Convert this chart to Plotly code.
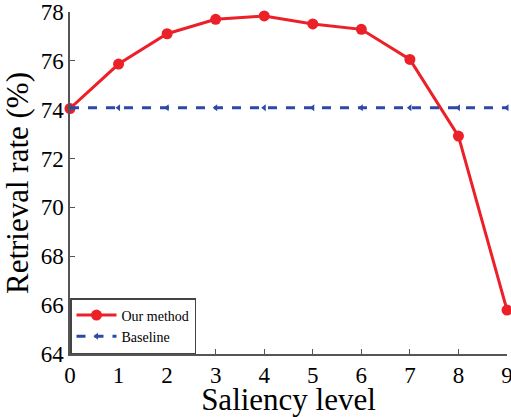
import plotly.graph_objects as go

levels = [0, 1, 2, 3, 4, 5, 6, 7, 8, 9]
our_method = [74.05, 75.87, 77.11, 77.70, 77.84, 77.51, 77.29, 76.06, 72.92, 65.80]
baseline = [74.08] * 10
y_ticks = [64, 66, 68, 70, 72, 74, 76, 78]

red = "#EC2028"
blue = "#2D48A8"
font = "Liberation Serif"

fig = go.Figure()
fig.add_trace(go.Scatter(
    x=levels, y=our_method, mode="lines+markers", name="Our method",
    line=dict(color=red, width=3), marker=dict(color=red, size=11),
    cliponaxis=False))
fig.add_trace(go.Scatter(
    x=levels, y=baseline, mode="lines+markers", name="Baseline",
    line=dict(color=blue, width=3, dash="dash"),
    marker=dict(color=blue, size=6, symbol="triangle-left"),
    cliponaxis=False))

fig.update_layout(
    width=511, height=417,
    margin=dict(l=70, r=4, t=12, b=63),
    paper_bgcolor="white", plot_bgcolor="white",
    font=dict(family=font, color="black"),
    showlegend=True,
    legend=dict(x=0, y=0, xanchor="left", yanchor="bottom",
                bordercolor="#444", borderwidth=1.5, bgcolor="white",
                font=dict(family=font, size=14), tracegroupgap=0,
                itemwidth=40),
    xaxis=dict(range=[0, 9], tickvals=levels, ticks="inside", ticklen=5,
               tickcolor="#555", showline=True, linecolor="#555", linewidth=1.5,
               showgrid=False, zeroline=False, ticklabeloverflow="allow",
               automargin=False,
               tickfont=dict(family=font, size=23),
               title=dict(text="Saliency level", font=dict(family=font, size=31), standoff=6)),
    yaxis=dict(range=[64, 78], tickvals=y_ticks, ticks="inside", ticklen=5,
               tickcolor="#555", showline=True, linecolor="#555", linewidth=1.5,
               showgrid=False, zeroline=False, automargin=False,
               tickfont=dict(family=font, size=23),
               title=dict(text="Retrieval rate (%)", font=dict(family=font, size=31), standoff=6)),
)

fig.write_html("out.html")
